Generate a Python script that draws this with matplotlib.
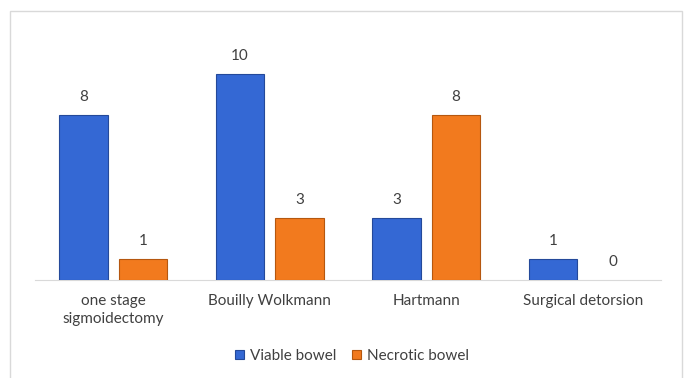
import matplotlib
matplotlib.use('Agg')
import matplotlib.pyplot as plt
from matplotlib.patches import Rectangle
import numpy as np

plt.rcParams['font.family'] = ['Lato', 'DejaVu Sans']

# -- Data --
categories = ['one stage\nsigmoidectomy', 'Bouilly Wolkmann', 'Hartmann', 'Surgical detorsion']
viable = [8, 10, 3, 1]
necrotic = [1, 3, 8, 0]
series_names = ['Viable bowel', 'Necrotic bowel']

BLUE, BLUE_EDGE = '#3468D4', '#24499A'
ORANGE, ORANGE_EDGE = '#F27A1E', '#B5570F'
TXT = '#404040'

fig = plt.figure(figsize=(6.87, 3.78), dpi=100)
W, H = 687, 378
ax = fig.add_axes([35 / W, 98 / H, (661 - 35) / W, (280 - 33) / H])

# outer chart border
fig.patches.append(Rectangle((10 / W, -0.05), 672 / W, 1.05 - 11 / H,
                             transform=fig.transFigure, fill=False,
                             edgecolor='#d9d9d9', linewidth=1.0))

x = np.arange(len(categories))
bw = 0.31
off = 0.19
b1 = ax.bar(x - off, viable, bw, color=BLUE, edgecolor=BLUE_EDGE, linewidth=0.8,
            label=series_names[0], zorder=3)
b2 = ax.bar(x + off, necrotic, bw, color=ORANGE, edgecolor=ORANGE_EDGE, linewidth=0.8,
            label=series_names[1], zorder=3)
for bar, v in zip(b2, necrotic):
    if v == 0:
        bar.set_linewidth(0)

for bars, vals in [(b1, viable), (b2, necrotic)]:
    for bar, v in zip(bars, vals):
        ax.text(bar.get_x() + bar.get_width() / 2, v + 0.55, str(v),
                ha='center', va='bottom', fontsize=11, color=TXT)

ax.set_xlim(-0.5, len(categories) - 0.5)
ax.set_ylim(0, 12)
ax.set_xticks(x)
ax.set_xticklabels(categories, fontsize=11, color=TXT, linespacing=1.35)
ax.tick_params(axis='x', length=0, pad=10)
ax.set_yticks([])
for s in ['top', 'right', 'left']:
    ax.spines[s].set_visible(False)
ax.spines['bottom'].set_color('#d9d9d9')

leg = fig.legend(handles=[b1, b2], labels=series_names, loc='center',
                 bbox_to_anchor=(352 / W, 1 - 356 / H), ncol=2, frameon=False,
                 fontsize=11, handlelength=0.6, handleheight=0.6,
                 handletextpad=0.4, columnspacing=1.0)
for t in leg.get_texts():
    t.set_color(TXT)

fig.savefig('out.png', dpi=100)
